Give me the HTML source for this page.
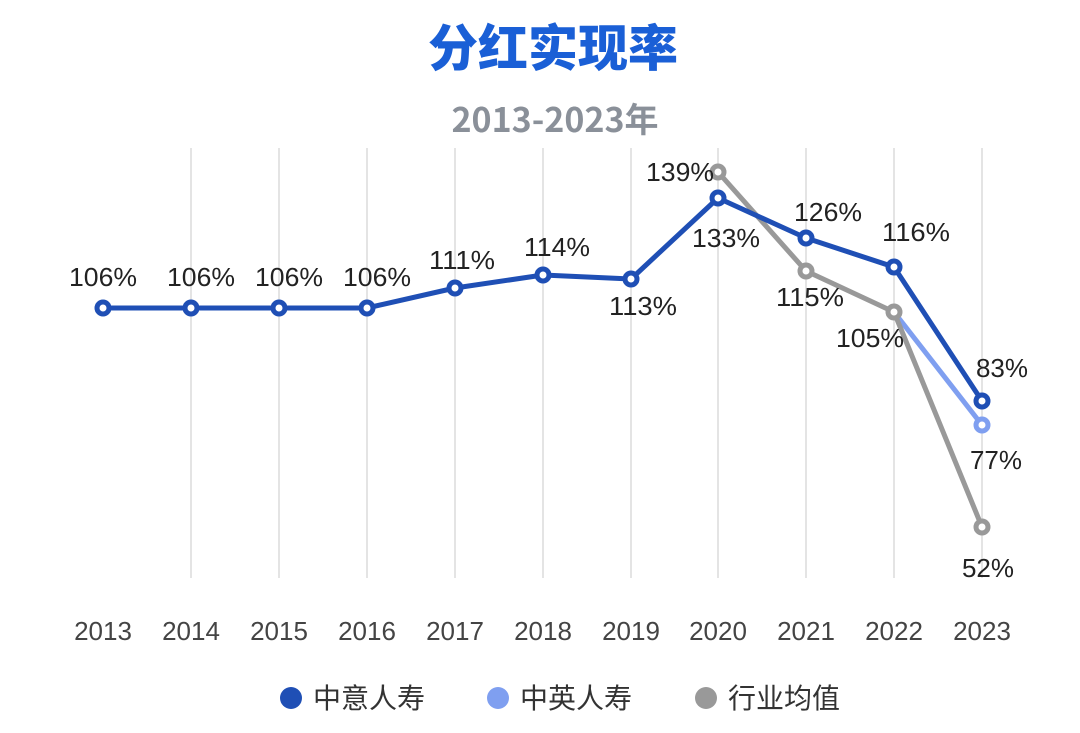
<!DOCTYPE html>
<html><head><meta charset="utf-8"><style>
html,body{margin:0;padding:0;background:#fff;}
svg{display:block;}
text{font-family:"Liberation Sans","Noto Sans CJK SC",sans-serif;}
</style></head><body>
<svg width="1080" height="733" viewBox="0 0 1080 733" xmlns="http://www.w3.org/2000/svg">
<text x="553" y="66" text-anchor="middle" font-size="50" font-weight="900" fill="#1a5fd6" style="font-family:'Noto Sans CJK SC',sans-serif">分红实现率</text>
<text x="555" y="132" text-anchor="middle" font-size="34" font-weight="bold" fill="#8a9099" style="font-family:'Noto Sans CJK SC',sans-serif">2013-2023年</text>
<g stroke="#e4e4e4" stroke-width="2">
<line x1="191" y1="148" x2="191" y2="578"/><line x1="279" y1="148" x2="279" y2="578"/><line x1="367" y1="148" x2="367" y2="578"/><line x1="455" y1="148" x2="455" y2="578"/><line x1="543" y1="148" x2="543" y2="578"/><line x1="631" y1="148" x2="631" y2="578"/><line x1="718" y1="148" x2="718" y2="578"/><line x1="806" y1="148" x2="806" y2="578"/><line x1="894" y1="148" x2="894" y2="578"/><line x1="982" y1="148" x2="982" y2="578"/>
</g>
<g fill="none" stroke-width="5" stroke-linejoin="round">
<polyline stroke="#7f9ff0" points="894,312 982,425"/>
<polyline stroke="#999" points="718,172 806,271 894,312 982,527"/>
<polyline stroke="#1f4fb5" points="103,308 191,308 279,308 367,308 455,288 543,275 631,279 718,198 806,238 894,267 982,401"/>
</g>
<g fill="#fff" stroke-width="5">
<g stroke="#999"><circle cx="718" cy="172" r="6"/><circle cx="806" cy="271" r="6"/><circle cx="894" cy="312" r="6"/><circle cx="982" cy="527" r="6"/></g>
<circle stroke="#7f9ff0" cx="982" cy="425" r="6"/>
<g stroke="#1f4fb5"><circle cx="103" cy="308" r="6"/><circle cx="191" cy="308" r="6"/><circle cx="279" cy="308" r="6"/><circle cx="367" cy="308" r="6"/><circle cx="455" cy="288" r="6"/><circle cx="543" cy="275" r="6"/><circle cx="631" cy="279" r="6"/><circle cx="718" cy="198" r="6"/><circle cx="806" cy="238" r="6"/><circle cx="894" cy="267" r="6"/><circle cx="982" cy="401" r="6"/></g>
</g>
<g font-size="26" fill="#222" text-anchor="middle" transform="translate(0,0)">
<text x="103" y="286" textLength="68" lengthAdjust="spacingAndGlyphs">106%</text><text x="201" y="286" textLength="68" lengthAdjust="spacingAndGlyphs">106%</text><text x="289" y="286" textLength="68" lengthAdjust="spacingAndGlyphs">106%</text><text x="377" y="286" textLength="68" lengthAdjust="spacingAndGlyphs">106%</text>
<text x="462" y="269" textLength="66" lengthAdjust="spacingAndGlyphs">111%</text><text x="557" y="256" textLength="66" lengthAdjust="spacingAndGlyphs">114%</text><text x="643" y="315" textLength="68" lengthAdjust="spacingAndGlyphs">113%</text>
<text x="680" y="181" textLength="68" lengthAdjust="spacingAndGlyphs">139%</text><text x="726" y="247" textLength="68" lengthAdjust="spacingAndGlyphs">133%</text>
<text x="828" y="221" textLength="68" lengthAdjust="spacingAndGlyphs">126%</text><text x="916" y="241" textLength="68" lengthAdjust="spacingAndGlyphs">116%</text>
<text x="810" y="306" textLength="68" lengthAdjust="spacingAndGlyphs">115%</text><text x="870" y="347" textLength="68" lengthAdjust="spacingAndGlyphs">105%</text>
<text x="1002" y="377">83%</text><text x="996" y="469">77%</text><text x="988" y="577">52%</text>
</g>
<g font-size="26" fill="#444" text-anchor="middle">
<text x="103" y="640">2013</text><text x="191" y="640">2014</text><text x="279" y="640">2015</text><text x="367" y="640">2016</text><text x="455" y="640">2017</text><text x="543" y="640">2018</text><text x="631" y="640">2019</text><text x="718" y="640">2020</text><text x="806" y="640">2021</text><text x="894" y="640">2022</text><text x="982" y="640">2023</text>
</g>
<circle cx="291" cy="698" r="11" fill="#1f4fb5"/>
<circle cx="498" cy="698" r="11" fill="#7f9ff0"/>
<circle cx="706" cy="698" r="11" fill="#999"/>
<g font-size="28" fill="#333" style="font-family:'Noto Sans CJK SC',sans-serif">
<text x="313" y="708">中意人寿</text><text x="520" y="708">中英人寿</text><text x="728" y="708">行业均值</text>
</g>
</svg>
</body></html>
